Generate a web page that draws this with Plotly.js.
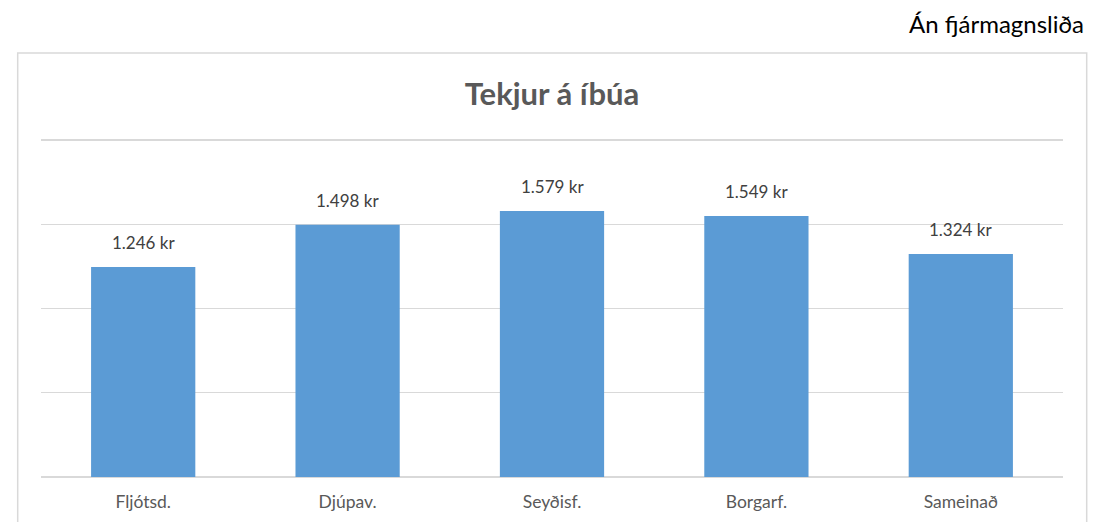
<!DOCTYPE html>
<html>
<head>
<meta charset="utf-8">
<script src="https://cdn.plot.ly/plotly-3.0.1.min.js"></script>
<style>
html,body{margin:0;padding:0;background:#fff;}
#chart{width:1099px;height:522px;}
</style>
</head>
<body>
<div id="chart"></div>
<script>
const categories = ["Fljótsd.", "Djúpav.", "Seyðisf.", "Borgarf.", "Sameinað"];
const values = [1246, 1498, 1579, 1549, 1324];
const titleText = "Tekjur á íbúa";
const subText = "Án fjármagnsliða";

const FONT = "Lato, 'Open Sans', sans-serif";

// plot geometry (pixels)
const W = 1099, H = 522;
const plotL = 41, plotR = 1063, plotB = 476.7;
const pxPerUnit = 84.2 / 500;
const yMax = 2060;
const plotT = plotB - yMax * pxPerUnit;
const plotW = plotR - plotL, plotH = plotB - plotT;
const px2paperX = px => (px - plotL) / plotW;
const px2paperY = py => (plotB - py) / plotH;

const trace = {
  type: "bar",
  x: categories,
  y: values,
  marker: {color: "#5B9BD5", line: {width: 0}},
  hoverinfo: "skip"
};

const labelAnnotations = categories.map((c, i) => ({
  x: c, y: values[i], xref: "x", yref: "y",
  text: values[i].toLocaleString("de-DE") + " kr",
  showarrow: false, yanchor: "bottom", yshift: 12,
  font: {family: FONT, size: 17, color: "#404040"}
}));

const layout = {
  width: W, height: H,
  margin: {l: plotL, r: W - plotR, t: plotT, b: H - plotB, pad: 0},
  paper_bgcolor: "#ffffff",
  plot_bgcolor: "rgba(0,0,0,0)",
  bargap: 0.49,
  showlegend: false,
  separators: ",.",
  title: {
    text: titleText,
    x: 0.5, xref: "paper", xanchor: "center",
    y: 1 - 94/522, yref: "container", yanchor: "middle",
    font: {family: FONT, size: 31, color: "#595959", weight: "bold"}
  },
  xaxis: {
    type: "category",
    showgrid: false, showline: false, zeroline: false,
    ticks: "outside", ticklen: 9, tickcolor: "rgba(0,0,0,0)",
    tickfont: {family: FONT, size: 17.5, color: "#595959"},
    fixedrange: true
  },
  yaxis: {
    range: [0, yMax], dtick: 500, tick0: 0,
    showgrid: true, gridcolor: "#D9D9D9", gridwidth: 1.3,
    zeroline: true, zerolinecolor: "#D9D9D9", zerolinewidth: 1.3,
    showticklabels: false, ticks: "", showline: false,
    fixedrange: true
  },
  shapes: [{
    type: "rect", xref: "paper", yref: "paper", layer: "below",
    x0: px2paperX(17.7), x1: px2paperX(1086.7),
    y0: px2paperY(540), y1: px2paperY(52.7),
    line: {color: "#D9D9D9", width: 1.5}, fillcolor: "rgba(0,0,0,0)"
  }],
  annotations: labelAnnotations.concat([{
    text: subText, xref: "paper", yref: "paper",
    x: px2paperX(1086), y: px2paperY(23),
    xanchor: "right", yanchor: "middle", showarrow: false,
    font: {family: FONT, size: 24, color: "#000000"}
  }])
};

Plotly.newPlot("chart", [trace], layout, {displayModeBar: false, staticPlot: true});
</script>
</body>
</html>
